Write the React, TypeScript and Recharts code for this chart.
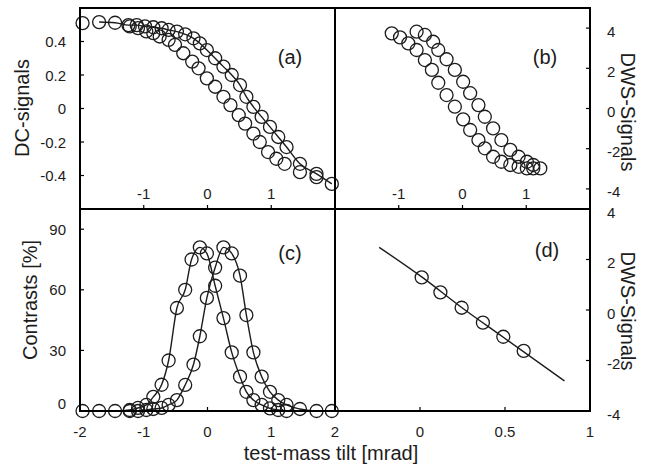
import React from 'react';
import { ComposedChart, Scatter, Line, XAxis, YAxis } from 'recharts';

const FONT = 'Arial, "Liberation Sans", Helvetica, sans-serif';
const INK = '#1c1c1c';

// (a) DC signals, two sweeps (the right one carries the fit line)
const dcTiltUpper = [-1.7, -1.45, -1.24, -1.11, -0.98, -0.85, -0.72, -0.61, -0.48, -0.35, -0.22, -0.12, -0.01, 0.12, 0.25, 0.38, 0.51, 0.61, 0.72, 0.85, 0.98, 1.11, 1.24, 1.45, 1.71, 1.95];
const dcUpper = [0.516, 0.512, 0.498, 0.498, 0.49, 0.485, 0.479, 0.469, 0.459, 0.443, 0.419, 0.389, 0.349, 0.3, 0.25, 0.2, 0.14, 0.07, 0.01, -0.05, -0.11, -0.17, -0.23, -0.33, -0.39, -0.45];
const dcTiltLower = [-1.96, -1.22, -1.09, -0.96, -0.85, -0.75, -0.61, -0.51, -0.38, -0.24, -0.14, -0.01, 0.12, 0.25, 0.36, 0.49, 0.59, 0.72, 0.82, 0.95, 1.08, 1.21, 1.45, 1.71];
const dcLower = [0.51, 0.49, 0.48, 0.46, 0.45, 0.43, 0.41, 0.38, 0.33, 0.28, 0.24, 0.18, 0.13, 0.07, 0.02, -0.04, -0.09, -0.15, -0.2, -0.26, -0.3, -0.33, -0.38, -0.41];

// (b) DWS signals
const dwsTiltRight = [-0.72, -0.59, -0.46, -0.38, -0.25, -0.12, 0.01, 0.12, 0.25, 0.35, 0.48, 0.61, 0.75, 0.88, 1.01, 1.11, 1.22];
const dwsRight = [3.82, 3.66, 3.32, 2.91, 2.45, 1.92, 1.33, 0.76, 0.17, -0.41, -0.99, -1.57, -2.06, -2.4, -2.65, -2.81, -2.98];
const dwsTiltLeft = [-1.11, -0.98, -0.85, -0.72, -0.59, -0.48, -0.38, -0.25, -0.12, 0.01, 0.12, 0.25, 0.35, 0.48, 0.61, 0.75, 0.88, 1.01, 1.11];
const dwsLeft = [3.74, 3.54, 3.24, 2.91, 2.41, 1.92, 1.28, 0.67, 0.09, -0.54, -1.07, -1.57, -1.98, -2.4, -2.65, -2.81, -2.9, -2.98, -2.98];

// (c) contrasts [%]
const conTiltLeft = [-1.96, -1.7, -1.45, -1.22, -1.09, -0.96, -0.85, -0.72, -0.61, -0.48, -0.35, -0.25, -0.12, -0.01, 0.12, 0.25, 0.38, 0.51, 0.61, 0.72, 0.85, 0.98, 1.11, 1.24];
const conLeft = [0, 0, 0, 0.5, 1.5, 3, 7, 13, 25, 51, 60, 75, 81, 78, 62, 46, 29, 17, 9.5, 5.4, 3, 1.3, 0.5, 0];
const conTiltRight = [-1.22, -1.09, -0.96, -0.85, -0.72, -0.61, -0.48, -0.35, -0.22, -0.12, -0.01, 0.12, 0.25, 0.38, 0.51, 0.61, 0.72, 0.85, 0.98, 1.11, 1.24, 1.45, 1.71, 1.95];
const conRight = [0, 0, 0.5, 1, 1.5, 3, 5.4, 12.9, 23, 37, 56, 71, 81, 78, 67, 47.5, 29, 17, 9.5, 5.4, 3, 1, 0, 0];

// (d) DWS signals near zero with fit
const linTilt = [0.01, 0.12, 0.245, 0.37, 0.49, 0.61];
const linDws = [1.29, 0.7, 0.09, -0.5, -1.06, -1.62];
const fitTilt = [-0.24, 0.01, 0.245, 0.49, 0.85];
const fitDws = [2.48, 1.31, 0.1, -1.08, -2.81];

const tiltTicks = [-1, 0, 1];
const tiltTicksC = [-2, -1, 0, 1, 2];
const tiltTicksD = [0, 0.5, 1];
const dcTicks = [-0.4, -0.2, 0, 0.2, 0.4];
const dwsTicks = [-4, -2, 0, 2, 4];
const conTicks = [0, 30, 60, 90];

type Pt = { x: number; y: number };
const pts = (xs: number[], ys: number[]): Pt[] => xs.map((x, i) => ({ x, y: ys[i] }));

const makeTick = (anchor: 'start' | 'middle' | 'end', dx: number, dy: number, zeroShift = 0) => (props: any) => {
  const { x, y, payload } = props;
  const extra = payload.value === 0 ? zeroShift : 0;
  return (
    <text x={x + dx} y={y + dy + extra} textAnchor={anchor} dominantBaseline="central"
      fontFamily={FONT} fontSize={15} fill={INK}>
      {payload.value}
    </text>
  );
};

const Ring = (props: any) => (
  <circle cx={props.cx} cy={props.cy} r={6.5} fill="none" stroke={INK} strokeWidth={1.3} />
);
const Nothing = () => <g />;

type Box = { top: number; right: number; bottom: number; left: number };

type PanelProps = {
  box: Box;
  xDomain: number[];
  xTicks: number[];
  yDomain: number[];
  yTicks: number[];
  xInside: boolean;
  yRight: boolean;
  zeroShift?: number;
  anchor: Pt[];
  series: React.ReactNode[];
};

const axisLine = { stroke: '#000', strokeWidth: 2 };
const tickLine = { stroke: '#000', strokeWidth: 1.2 };

// axes are 1px boxes, so the margins are pulled in by 1 on each side
function Panel({ box, xDomain, xTicks, yDomain, yTicks, xInside, yRight, zeroShift = 0, anchor, series }: PanelProps) {
  const margin = { top: box.top - 1, right: box.right - 1, bottom: box.bottom - 1, left: box.left - 1 };
  const xTick = xInside ? makeTick('middle', 0, -12) : makeTick('middle', 0, 24);
  const yTick = yRight ? makeTick('start', 21, 3) : makeTick('end', -18, 0, zeroShift);
  return (
    <div style={{ position: 'absolute', left: 0, top: 0 }}>
      <ComposedChart width={652} height={468} margin={margin}>
        <XAxis xAxisId="b" type="number" dataKey="x" domain={xDomain} ticks={xTicks} orientation="bottom"
          height={1} interval={0} axisLine={axisLine} tickLine={tickLine} tickSize={-4} tickMargin={0} tick={xTick} />
        <XAxis xAxisId="t" type="number" dataKey="x" domain={xDomain} ticks={xTicks} orientation="top"
          height={1} interval={0} axisLine={axisLine} tickLine={tickLine} tickSize={-4} tick={false} />
        <YAxis yAxisId="l" type="number" dataKey="y" domain={yDomain} ticks={yTicks} orientation="left"
          width={1} interval={0} axisLine={axisLine} tickLine={tickLine} tickSize={-4} tickMargin={0}
          tick={yRight ? false : yTick} />
        <YAxis yAxisId="r" type="number" dataKey="y" domain={yDomain} ticks={yTicks} orientation="right"
          width={1} interval={0} axisLine={axisLine} tickLine={tickLine} tickSize={-4} tickMargin={0}
          tick={yRight ? yTick : false} />
        {series}
        <Scatter xAxisId="t" yAxisId="r" data={anchor} shape={Nothing} isAnimationActive={false} />
      </ComposedChart>
    </div>
  );
}

const ringSeries = (key: string, data: Pt[]) => (
  <Scatter key={key} xAxisId="b" yAxisId="l" data={data} shape={Ring} isAnimationActive={false} />
);
const lineSeries = (key: string, data: Pt[]) => (
  <Line key={key} xAxisId="b" yAxisId="l" data={data} dataKey="y" type="monotone" stroke={INK}
    strokeWidth={1.4} dot={false} activeDot={false} isAnimationActive={false} />
);

const titleStyle = { fontFamily: FONT, fontSize: 20, fill: INK } as const;

export default function App() {
  const dcUp = pts(dcTiltUpper, dcUpper);
  const dcLow = pts(dcTiltLower, dcLower);
  const dwsR = pts(dwsTiltRight, dwsRight);
  const dwsL = pts(dwsTiltLeft, dwsLeft);
  const conL = pts(conTiltLeft, conLeft);
  const conR = pts(conTiltRight, conRight);
  const lin = pts(linTilt, linDws);
  const fit = pts(fitTilt, fitDws);
  return (
    <div style={{ position: 'absolute', left: 0, top: 0, width: 652, height: 468, background: '#fff' }}>
      <Panel box={{ top: 8, right: 317, bottom: 259, left: 80 }} xDomain={[-2, 2]} xTicks={tiltTicks}
        yDomain={[-0.6, 0.6]} yTicks={dcTicks} xInside yRight={false} anchor={dcUp}
        series={[lineSeries('a-line', dcUp), ringSeries('a-up', dcUp), ringSeries('a-low', dcLow)]} />
      <Panel box={{ top: 8, right: 62, bottom: 259, left: 335 }} xDomain={[-2, 2]} xTicks={tiltTicks}
        yDomain={[-5, 5]} yTicks={dwsTicks} xInside yRight anchor={dwsR}
        series={[ringSeries('b-right', dwsR), ringSeries('b-left', dwsL)]} />
      <Panel box={{ top: 209, right: 317, bottom: 57, left: 80 }} xDomain={[-2, 2]} xTicks={tiltTicksC}
        yDomain={[0, 100]} yTicks={conTicks} xInside={false} yRight={false} zeroShift={-8} anchor={conL}
        series={[lineSeries('c-l-line', conL), lineSeries('c-r-line', conR), ringSeries('c-l', conL), ringSeries('c-r', conR)]} />
      <Panel box={{ top: 209, right: 62, bottom: 57, left: 335 }} xDomain={[-0.5, 1]} xTicks={tiltTicksD}
        yDomain={[-4, 4]} yTicks={dwsTicks} xInside={false} yRight anchor={fit}
        series={[lineSeries('d-fit', fit), ringSeries('d-pts', lin)]} />
      <svg width={652} height={468} style={{ position: 'absolute', left: 0, top: 0, pointerEvents: 'none' }}>
        {/* outer frame of the 2x2 figure */}
        <rect x={80} y={8} width={510} height={403} fill="none" stroke="#000" strokeWidth={2} />
        <line x1={335} y1={8} x2={335} y2={411} stroke="#000" strokeWidth={2} />
        <line x1={80} y1={209} x2={590} y2={209} stroke="#000" strokeWidth={2} />
        <text x={22} y={108} transform="rotate(-90 22 108)" textAnchor="middle" dominantBaseline="central" {...titleStyle}>DC-signals</text>
        <text x={30} y={300} transform="rotate(-90 30 300)" textAnchor="middle" dominantBaseline="central" {...titleStyle}>Contrasts [%]</text>
        <text x={628} y={112} transform="rotate(90 628 112)" textAnchor="middle" dominantBaseline="central" {...titleStyle}>DWS-Signals</text>
        <text x={628} y={311} transform="rotate(90 628 311)" textAnchor="middle" dominantBaseline="central" {...titleStyle}>DWS-Signals</text>
        <text x={331} y={453} textAnchor="middle" dominantBaseline="central" {...titleStyle}>test-mass tilt [mrad]</text>
        <text x={290} y={57} textAnchor="middle" dominantBaseline="central" {...titleStyle}>(a)</text>
        <text x={545} y={57} textAnchor="middle" dominantBaseline="central" {...titleStyle}>(b)</text>
        <text x={290} y={253} textAnchor="middle" dominantBaseline="central" {...titleStyle}>(c)</text>
        <text x={547} y={250} textAnchor="middle" dominantBaseline="central" {...titleStyle}>(d)</text>
      </svg>
    </div>
  );
}
